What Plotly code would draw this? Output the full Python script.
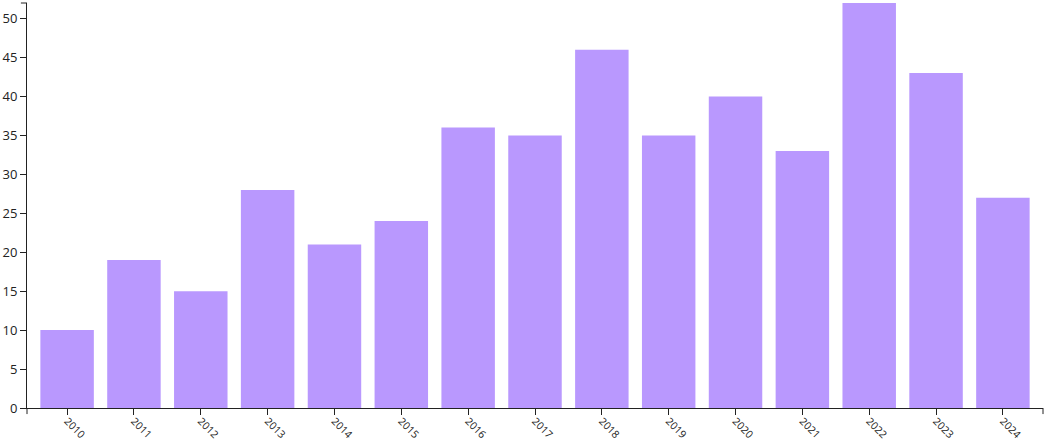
import plotly.graph_objects as go

years = [str(y) for y in range(2010, 2025)]
counts = [10, 19, 15, 28, 21, 24, 36, 35, 46, 35, 40, 33, 52, 43, 27]

fig = go.Figure(go.Bar(x=years, y=counts, marker=dict(color="#b998fe", line=dict(width=0))))

fig.update_layout(
    width=1045, height=443,
    margin=dict(l=27, r=2, t=3, b=35),
    plot_bgcolor="white", paper_bgcolor="white",
    bargap=0.2, showlegend=False,
    font=dict(family="Open Sans, DejaVu Sans, sans-serif", color="#222"),
)
fig.update_xaxes(
    type="category", range=[-0.6, 14.6], automargin=False,
    showline=True, linecolor="#222", linewidth=1,
    ticks="outside", ticklen=6, tickcolor="#222",
    tickangle=45, tickfont=dict(size=10.5), ticklabelstandoff=-4, showgrid=False,
)
fig.update_yaxes(
    range=[0, 52], dtick=5, tick0=0, automargin=False,
    showline=True, linecolor="#222", linewidth=1,
    ticks="outside", ticklen=6, tickcolor="#222",
    tickfont=dict(size=13), showgrid=False, zeroline=False,
)
# d3-style outer ticks at the axis ends
fig.add_shape(type="line", xref="paper", yref="paper", x0=0, x1=0, y0=0, y1=-0.015,
              line=dict(color="#222", width=1))
fig.add_shape(type="line", xref="paper", yref="paper", x0=1, x1=1, y0=0, y1=-0.015,
              line=dict(color="#222", width=1))
fig.add_shape(type="line", xref="paper", yref="paper", x0=-0.006, x1=0, y0=1, y1=1,
              line=dict(color="#222", width=1))

# drop the default body margin so the figure sits at the page corner
fig.write_html("out.html", config={"displayModeBar": False},
               post_script="document.body.style.margin='0';")
